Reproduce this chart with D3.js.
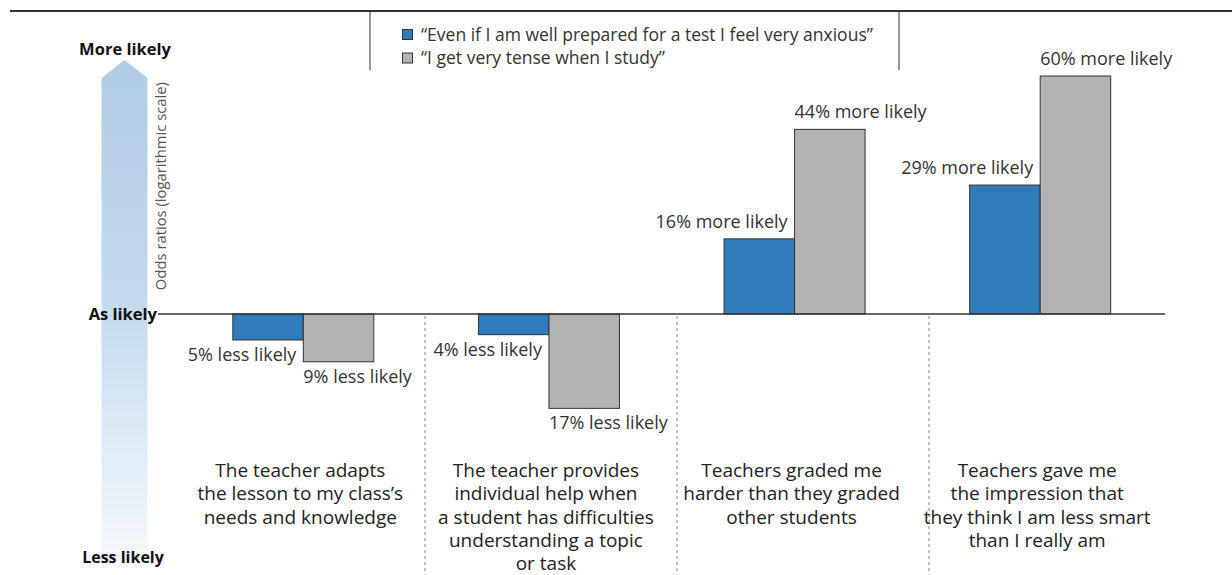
<!DOCTYPE html>
<html><head><meta charset="utf-8">
<script src="https://cdn.jsdelivr.net/npm/d3@7"></script>
<style>body{margin:0;background:#fff;} svg{display:block;font-family:"Open Sans",sans-serif;}</style>
</head><body>
<svg id="c" width="1232" height="575"></svg>
<script>
const categories = [
  ["The teacher adapts","the lesson to my class\u2019s","needs and knowledge"],
  ["The teacher provides","individual help when","a student has difficulties","understanding a topic","or task"],
  ["Teachers graded me","harder than they graded","other students"],
  ["Teachers gave me","the impression that","they think I am less smart","than I really am"]
];
const seriesNames = ["\u201cEven if I am well prepared for a test I feel very anxious\u201d","\u201cI get very tense when I study\u201d"];
const anxiousOdds = [0.95, 0.96, 1.16, 1.29];
const tenseOdds = [0.91, 0.83, 1.44, 1.60];
const anxiousLabels = ["5% less likely","4% less likely","16% more likely","29% more likely"];
const tenseLabels = ["9% less likely","17% less likely","44% more likely","60% more likely"];
const colors = ["#2f7bbb","#b3b3b3"];

const svg = d3.select("#c");
const W = 1232, H = 575;
const x = d3.scaleBand().domain(d3.range(4)).range([179, 1165.5]).paddingInner(0).paddingOuter(0);
const y = d3.scaleLog().domain([1, 1.6]).range([314, 76]);
const barW = 70.5;
const series = [anxiousOdds, tenseOdds];
const labels = [anxiousLabels, tenseLabels];

// top frame line
svg.append("line").attr("x1",10).attr("x2",W).attr("y1",11).attr("y2",11).attr("stroke","#333").attr("stroke-width",2);
// legend box sides
svg.append("line").attr("x1",370).attr("x2",370).attr("y1",12).attr("y2",70).attr("stroke","#333").attr("stroke-width",1);
svg.append("line").attr("x1",899).attr("x2",899).attr("y1",12).attr("y2",70).attr("stroke","#333").attr("stroke-width",1);

// legend
seriesNames.forEach((n,i)=>{
  const ly = 35 + i*23.5;
  svg.append("rect").attr("x",402.5).attr("y",ly-5.5).attr("width",10).attr("height",10)
    .attr("fill",colors[i]).attr("stroke","#333").attr("stroke-width",1);
  svg.append("text").attr("x",421).attr("y",ly+5.5).attr("font-size",17.5).attr("fill","#333").text(n);
});

// left arrow with gradient
const defs = svg.append("defs");
const g = defs.append("linearGradient").attr("id","arr").attr("x1",0).attr("x2",0).attr("y1",0).attr("y2",1);
g.append("stop").attr("offset","0%").attr("stop-color","#b0cce5");
g.append("stop").attr("offset","50%").attr("stop-color","#c6dbee");
g.append("stop").attr("offset","100%").attr("stop-color","#f7fafd");
svg.append("path").attr("d","M101.5,78 L124.5,60 L147.5,78 L147.5,568 L101.5,568 Z").attr("fill","url(#arr)");

svg.append("text").attr("x",125).attr("y",55).attr("text-anchor","middle").attr("font-size",16.5).attr("font-weight","bold").attr("fill","#111").text("More likely");
svg.append("text").attr("x",123).attr("y",563).attr("text-anchor","middle").attr("font-size",16).attr("font-weight","bold").attr("fill","#111").text("Less likely");
svg.append("text").attr("x",157).attr("y",320).attr("text-anchor","end").attr("font-size",16.5).attr("font-weight","bold").attr("fill","#111").text("As likely");
svg.append("text").attr("transform","translate(166,82) rotate(-90)").attr("text-anchor","end").attr("font-size",14.8).attr("fill","#555").text("Odds ratios (logarithmic scale)");

// separators
[425, 677, 929].forEach(sx=>{
  svg.append("line").attr("x1",sx).attr("x2",sx).attr("y1",316).attr("y2",H).attr("stroke","#888").attr("stroke-width",1).attr("stroke-dasharray","3,3");
});

// bars
const cx = i => x(i) + x.bandwidth()/2 + (i===0? 1: (i===1? 0: (i===2? -1: -2)));
series.forEach((s,si)=>{
  s.forEach((v,i)=>{
    const left = si===0 ? cx(i)-barW : cx(i);
    const y0 = y(1), y1 = y(v);
    svg.append("rect").attr("x",left).attr("y",Math.min(y0,y1)).attr("width",barW).attr("height",Math.abs(y1-y0))
      .attr("fill",colors[si]).attr("stroke","#333").attr("stroke-width",1);
    const pos = v>=1;
    const tx = si===0 ? cx(i)-7 : cx(i);
    const ty = pos ? y1-11 : y1+21;
    svg.append("text").attr("x",tx).attr("y",ty).attr("text-anchor",si===0?"end":"start")
      .attr("font-size",18).attr("fill","#333").text(labels[si][i]);
  });
});

// baseline
svg.append("line").attr("x1",158).attr("x2",1165).attr("y1",y(1)).attr("y2",y(1)).attr("stroke","#333").attr("stroke-width",1.5);

// category labels
categories.forEach((lines,i)=>{
  const t = svg.append("text").attr("text-anchor","middle").attr("font-size",19).attr("fill","#222");
  lines.forEach((l,k)=>{
    t.append("tspan").attr("x",cx(i)-3).attr("y",477+k*23.3).text(l);
  });
});
</script>
</body></html>
